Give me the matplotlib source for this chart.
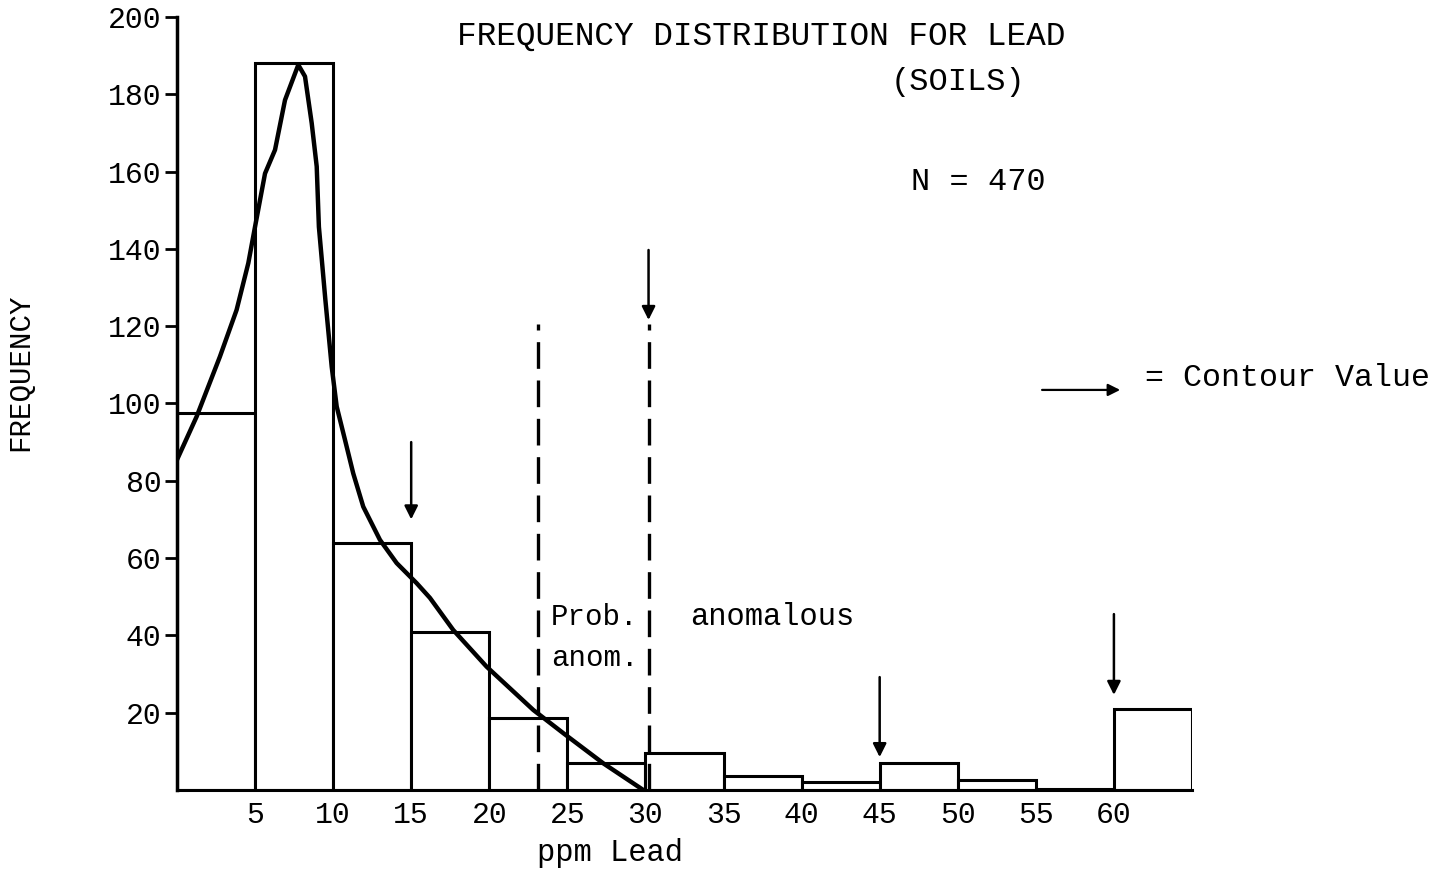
import numpy as np
from matplotlib import pyplot as plt

# histogram of lead in soils, ppm bins of width 5
bin_left = [0, 5, 10, 15, 20, 25, 30, 35, 40, 45, 50, 55, 60]
counts = [97.5, 188, 64, 41, 18.5, 7, 9.5, 3.5, 2, 7, 2.5, 0.3, 21]
tick_vals = [5, 10, 15, 20, 25, 30, 35, 40, 45, 50, 55, 60]
ytick_vals = [20, 40, 60, 80, 100, 120, 140, 160, 180, 200]

# hand drawn smoothed curve
curve_x = [0.0, 1.26, 2.75, 3.82, 4.57, 5.0, 5.64, 6.28, 6.92, 7.77, 8.2, 8.63, 8.95,
           9.09, 9.5, 9.91, 10.23, 10.76, 11.29, 11.93, 13.0, 14.07, 15.35, 16.2,
           17.69, 19.83, 22.82, 24.74, 27.3, 29.86]
curve_y = [85.4, 96.6, 112.1, 124.2, 136.3, 145.7, 159.5, 165.6, 178.5, 187.6, 184.6,
           172.5, 161.3, 145.7, 127, 109.5, 99.2, 90.6, 81.9, 73.3, 64.7, 58.7, 53.5,
           49.7, 41.4, 31.9, 20.7, 14.7, 6.9, 0]

# contour values (arrows) and anomaly thresholds (dashed)
contour_x = [15, 30.2, 45, 60]
contour_top = [90, 139.7, 29.2, 45.5]
contour_tip = [70, 121.6, 8.5, 24.6]
dashed_x = [23.1, 30.2]
dashed_top = 120.5

plt.rcParams['font.family'] = ['Liberation Mono', 'DejaVu Sans Mono']

fig = plt.figure(figsize=(14.48, 8.73), dpi=100)
ax = fig.add_axes([0.1222, 0.0951, 0.701, 0.8855])

ax.bar(bin_left, counts, width=5, align='edge', facecolor='white',
       edgecolor='black', linewidth=2.2, zorder=2)
ax.plot(curve_x, curve_y, color='black', lw=3.2, solid_capstyle='round',
        solid_joinstyle='round', zorder=3)

for xv in dashed_x:
    ax.plot([xv, xv], [0, dashed_top], color='black', lw=2.4,
            dashes=(8, 3.5), zorder=3)

for xv, y0, y1 in zip(contour_x, contour_top, contour_tip):
    ax.annotate('', xy=(xv, y1), xytext=(xv, y0),
                arrowprops=dict(arrowstyle='-|>', color='black', lw=1.8,
                                mutation_scale=20, shrinkA=0, shrinkB=0))

# legend for the arrows
ax.annotate('', xy=(60.4, 103.5), xytext=(55.4, 103.5), annotation_clip=False,
            arrowprops=dict(arrowstyle='-|>', color='black', lw=1.6,
                            mutation_scale=18, shrinkA=0, shrinkB=0))
ax.text(62.0, 106.6, '= Contour Value', fontsize=22.8, va='center', ha='left',
        clip_on=False)

ax.text(23.95, 44.8, 'Prob.', fontsize=21, va='center', ha='left')
ax.text(23.95, 34.2, 'anom.', fontsize=21, va='center', ha='left')
ax.text(32.85, 44.8, 'anomalous', fontsize=22, va='center', ha='left')

ax.set_xlim(0, 65)
ax.set_ylim(0, 200)
ax.set_xticks(tick_vals)
ax.set_xticklabels([str(v) for v in tick_vals], fontsize=21.5)
ax.set_yticks(ytick_vals)
ax.set_yticklabels([str(v) for v in ytick_vals], fontsize=21.5)
ax.tick_params(axis='x', length=0, pad=8)
ax.tick_params(axis='y', length=9, width=2, pad=2)

for s in ['top', 'right']:
    ax.spines[s].set_visible(False)
ax.spines['left'].set_linewidth(2.5)
ax.spines['bottom'].set_linewidth(2.2)

fig.text(0.5256, 0.9588, 'FREQUENCY DISTRIBUTION FOR LEAD', fontsize=23.6,
         ha='center', va='center')
fig.text(0.6616, 0.906, '(SOILS)', fontsize=23, ha='center', va='center')
fig.text(0.676, 0.7915, 'N = 470', fontsize=23, ha='center', va='center')
fig.text(0.0138, 0.574, 'FREQUENCY', fontsize=21, rotation=90,
         ha='center', va='center')
fig.text(0.4213, 0.0229, 'ppm Lead', fontsize=22, ha='center', va='center')

plt.savefig('out.png', dpi=100)
plt.close()
